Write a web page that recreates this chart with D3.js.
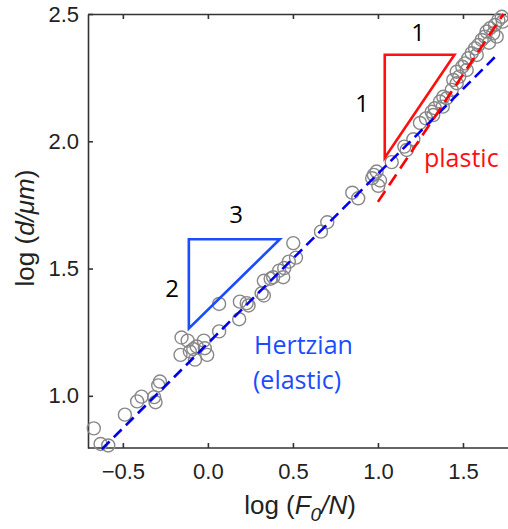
<!DOCTYPE html>
<html><head><meta charset="utf-8">
<script src="https://cdn.jsdelivr.net/npm/d3@7"></script>
<style>body{margin:0;background:#fff}svg{display:block}</style>
</head><body>
<svg id="c" width="508" height="529"></svg>
<script>
const xTicks = [-0.5, 0.0, 0.5, 1.0, 1.5];
const yTicks = [1.0, 1.5, 2.0, 2.5];
const logF = [-0.671,-0.631,-0.586,-0.488,-0.416,-0.390,-0.316,-0.308,-0.292,-0.282,
 -0.161,-0.155,-0.119,-0.106,-0.086,-0.076,-0.024,-0.018,-0.004,-0.066,
 0.066,0.066,0.184,0.188,0.228,0.239,0.316,0.329,0.329,0.369,
 0.384,0.419,0.443,0.449,0.476,0.518,0.502,0.665,0.702,0.849,
 0.884,0.966,0.992,1.012,1.002,0.976,1.081,1.155,1.169,1.208,
 1.247,1.282,1.316,1.335,1.365,1.384,1.404,1.434,1.443,1.463,
 1.478,1.496,1.512,1.531,1.551,1.571,1.590,1.610,1.629,1.639,
 1.659,1.678,1.688,1.708,1.728,1.734,1.698,1.653,1.581,1.522,
 1.463,1.381,1.325];
const logD = [0.872,0.811,0.805,0.926,0.978,0.997,0.995,0.975,1.041,1.056,
 1.161,1.229,1.217,1.174,1.184,1.142,1.217,1.187,1.161,1.194,
 1.361,1.253,1.301,1.370,1.364,1.355,1.403,1.394,1.452,1.460,
 1.466,1.492,1.466,1.502,1.527,1.543,1.600,1.645,1.682,1.798,
 1.776,1.855,1.881,1.846,1.825,1.868,1.918,1.979,1.966,2.008,
 2.072,2.090,2.116,2.130,2.156,2.175,2.169,2.202,2.241,2.273,
 2.254,2.293,2.306,2.326,2.346,2.365,2.378,2.398,2.411,2.431,
 2.444,2.424,2.457,2.476,2.489,2.470,2.411,2.387,2.339,2.280,
 2.228,2.136,2.103];
// fit lines (endpoints)
const hertzX = [-0.624, 1.694];
const hertzY = [0.790, 2.335];
const plasticX = [1.0, 1.738];
const plasticY = [1.762, 2.500];
// slope triangles: [x0, y0, width, height]
const triPlastic = [1.04, 1.935, 0.41, 0.405];
const triHertz = [-0.112, 1.265, 0.535, 0.350];

const svg = d3.select('#c');
const x = d3.scaleLinear().domain([-0.705, 1.75]).range([88, 505.5]);
const y = d3.scaleLinear().domain([0.795, 2.5]).range([448, 14]);

const tickFont = 'Liberation Sans, Arial, sans-serif';
const annFont = '"Open Sans", "Noto Sans", sans-serif';

// axes
const gx = svg.append('g').attr('transform','translate(0,448)')
  .call(d3.axisBottom(x).tickValues(xTicks).tickFormat(d3.format('.1f')).tickSizeInner(-5).tickSizeOuter(0).tickPadding(15));
const gt = svg.append('g').attr('transform','translate(0,14)')
  .call(d3.axisTop(x).tickValues(xTicks).tickFormat('').tickSizeInner(-5).tickSizeOuter(0));
const gy = svg.append('g').attr('transform','translate(88,0)')
  .call(d3.axisLeft(y).tickValues(yTicks).tickFormat(d3.format('.1f')).tickSizeInner(-5).tickSizeOuter(0).tickPadding(9));
[gx, gt, gy].forEach(g => {
  g.select('.domain').attr('stroke','#333').attr('stroke-width',1.6);
  g.selectAll('.tick line').attr('stroke','#333').attr('stroke-width',1.6);
  g.selectAll('.tick text').attr('font-family',tickFont).attr('font-size',22).attr('fill','#222');
});
gx.select('.domain').attr('d','M88,0H508');

// points
svg.append('g').selectAll('circle').data(logF.map((v,i)=>[v,logD[i]])).join('circle')
  .attr('cx',d=>x(d[0])).attr('cy',d=>y(d[1])).attr('r',6.5)
  .attr('fill','none').attr('stroke','#888').attr('stroke-width',1.4);

// lines
svg.append('line').attr('x1',x(hertzX[0])).attr('y1',y(hertzY[0])).attr('x2',x(hertzX[1])).attr('y2',y(hertzY[1]))
  .attr('stroke','#0000f0').attr('stroke-width',2.6).attr('stroke-dasharray','11,6');
svg.append('line').attr('x1',x(plasticX[0])).attr('y1',y(plasticY[0])).attr('x2',x(plasticX[1])).attr('y2',y(plasticY[1]))
  .attr('stroke','#ff0000').attr('stroke-width',2.6).attr('stroke-dasharray','13,7');

function tri(t, color){
  const [x0,y0,w,h]=t;
  const pts=[[x0,y0],[x0,y0+h],[x0+w,y0+h]];
  svg.append('path').attr('d','M'+pts.map(p=>x(p[0])+','+y(p[1])).join('L')+'Z')
    .attr('fill','none').attr('stroke',color).attr('stroke-width',2.6).attr('stroke-linejoin','miter');
}
tri(triPlastic,'#ff1010');
tri(triHertz,'#1a4dff');

function txt(px,py,s,color,size){
  svg.append('text').attr('x',px).attr('y',py).attr('text-anchor','middle')
    .attr('font-family',annFont).attr('font-size',size).attr('fill',color).text(s);
}
txt(418,41,'1','#000',24);
txt(362,112,'1','#000',24);
txt(236,223,'3','#000',24);
txt(172,297,'2','#000',24);
svg.append('text').attr('x',424).attr('y',167).attr('font-family',annFont).attr('font-size',25).attr('fill','#ff1010').text('plastic');
svg.append('text').attr('x',254).attr('y',354).attr('font-family',annFont).attr('font-size',25).attr('fill','#1a4dff').text('Hertzian');
svg.append('text').attr('x',253).attr('y',389).attr('font-family',annFont).attr('font-size',25).attr('fill','#1a4dff').text('(elastic)');

// axis titles
const xt = svg.append('text').attr('x',300).attr('y',514).attr('text-anchor','middle')
  .attr('font-family',tickFont).attr('font-size',26).attr('fill','#222');
xt.append('tspan').text('log (');
xt.append('tspan').attr('font-style','italic').text('F');
xt.append('tspan').attr('font-style','italic').attr('font-size',19).attr('dy',7).text('0');
xt.append('tspan').attr('font-style','italic').attr('dy',-7).text('/N');
xt.append('tspan').text(')');

const yt = svg.append('text').attr('transform','translate(34,228) rotate(-90)').attr('text-anchor','middle')
  .attr('font-family',tickFont).attr('font-size',26).attr('fill','#222');
yt.append('tspan').text('log (');
yt.append('tspan').attr('font-style','italic').text('d/μm');
yt.append('tspan').text(')');
</script>
</body></html>
